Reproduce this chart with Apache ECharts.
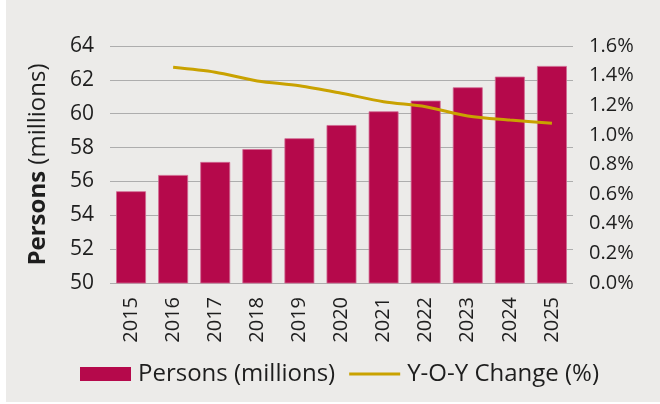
<!DOCTYPE html>
<html>
<head>
<meta charset="utf-8">
<script src="https://cdn.jsdelivr.net/npm/echarts@6/dist/echarts.min.js"></script>
<style>
  html, body { margin: 0; padding: 0; background: #fff; }
  #chart { position: absolute; left: 6px; top: 0; width: 654px; height: 402px; background: #ecebe9; }
</style>
</head>
<body>
<div id="chart"></div>
<script>
const years = ['2015', '2016', '2017', '2018', '2019', '2020', '2021', '2022', '2023', '2024', '2025']
const persons = [55.42, 56.38, 57.15, 57.91, 58.55, 59.33, 60.14, 60.77, 61.56, 62.19, 62.82]
const yoy = [null, 1.456, 1.423, 1.364, 1.332, 1.281, 1.224, 1.19, 1.128, 1.10, 1.078]

const font = 'Open Sans'
const txt = '#1e1e1e'
const gold = '#c9a200'
const crimson = '#b5094b'

const chart = echarts.init(document.getElementById('chart'))
chart.setOption({
  animation: false,
  textStyle: { fontFamily: font },
  grid: { left: 104, right: 87, top: 46, bottom: 119 },
  legend: {
    top: 357,
    left: 69,
    itemGap: 14,
    itemWidth: 51,
    itemHeight: 14,
    textStyle: { fontSize: 24, color: txt, fontFamily: font, padding: [0, 0, 0, 2] },
    data: [
      { name: 'Persons (millions)', icon: 'rect', itemStyle: { color: crimson, borderWidth: 0 } },
      { name: 'Y-O-Y Change (%)', icon: 'path://M0 0H52V3H0Z', itemStyle: { color: gold } }
    ]
  },
  xAxis: {
    type: 'category',
    data: years,
    axisLine: { show: false },
    axisTick: { show: false },
    axisLabel: { rotate: 90, fontSize: 20, color: txt, margin: 14 }
  },
  yAxis: [
    {
      type: 'value',
      min: 50, max: 64, interval: 2,
      name: '{b|Persons} (millions)',
      nameLocation: 'middle',
      nameRotate: 90,
      nameGap: 60,
      nameTextStyle: {
        fontSize: 24, color: txt,
        rich: { b: { fontSize: 24, fontWeight: 'bold', color: txt } }
      },
      axisLabel: { fontSize: 21, color: txt, margin: 16 },
      splitLine: { lineStyle: { color: '#adadad', width: 1 } }
    },
    {
      type: 'value',
      min: 0, max: 1.6, interval: 0.2,
      axisLabel: { fontSize: 20, color: txt, margin: 16, formatter: v => v.toFixed(1) + '%' },
      splitLine: { show: false }
    }
  ],
  series: [
    {
      name: 'Persons (millions)',
      type: 'bar',
      data: persons,
      barCategoryGap: '29%',
      itemStyle: { color: crimson, borderColor: '#d06a92', borderWidth: 0.8 }
    },
    {
      name: 'Y-O-Y Change (%)',
      type: 'line',
      yAxisIndex: 1,
      data: yoy,
      smooth: 0.3,
      symbol: 'none',
      lineStyle: { color: gold, width: 3 },
      itemStyle: { color: gold }
    }
  ]
})
</script>
</body>
</html>
